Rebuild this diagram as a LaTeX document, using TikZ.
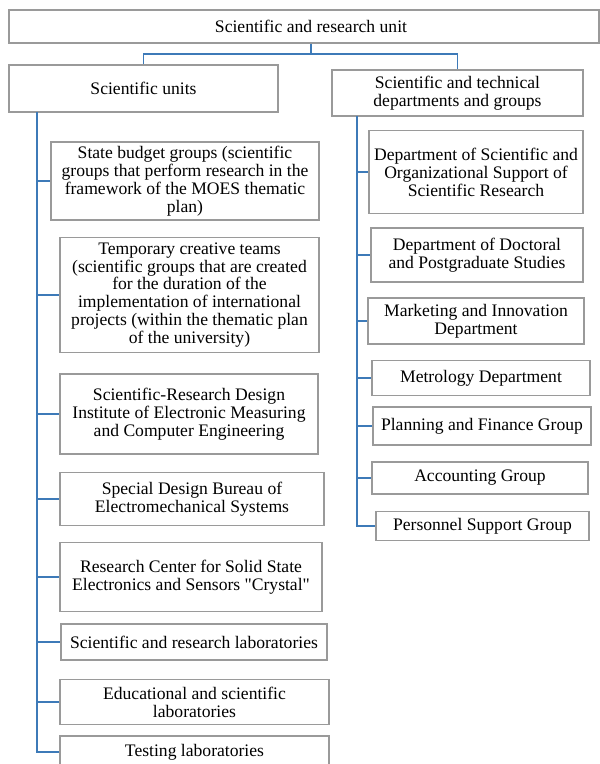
\documentclass[tikz,border=0pt]{standalone}
\usepackage{fontspec}
\setmainfont{Liberation Serif}[Ligatures=TeXOff]
\definecolor{boxgray}{HTML}{9A9A9A}
\definecolor{linkblue}{HTML}{3D7AB8}
\tikzset{
  unitbox/.style={draw=boxgray, line width=1.3pt, fill=white, inner sep=0pt, align=center,
    font=\fontsize{17.6}{17.9}\selectfont},
  link/.style={draw=linkblue, line width=1.5pt}
}
\begin{document}
\begin{tikzpicture}[x=1pt,y=-1pt]
\useasboundingbox (0,0) rectangle (600,764);
% top
\node[unitbox, minimum width=590pt, minimum height=33pt] (top) at (304,26.5) {\hspace*{14pt}Scientific and research unit};
\node[unitbox, minimum width=269pt, minimum height=47pt] (lh) at (143.5,88.5) {Scientific units};
\node[unitbox, minimum width=251pt, minimum height=46pt] (rh) at (457.5,93) {Scientific and technical\\departments and groups};
% left column
\node[unitbox, minimum width=268pt, minimum height=78pt] (L1) at (185,181) {State budget groups (scientific\\groups that perform research in the\\framework of the MOES thematic\\plan)};
\node[unitbox, minimum width=259pt, minimum height=115pt] (L2) at (189.5,295) {Temporary creative teams\\(scientific groups that are created\\for the duration of the\\implementation of international\\projects (within the thematic plan\\of the university)};
\node[unitbox, minimum width=258pt, minimum height=80pt] (L3) at (189,414) {Scientific-Research Design\\Institute of Electronic Measuring\\and Computer Engineering};
\node[unitbox, minimum width=264pt, minimum height=53pt] (L4) at (192,499) {Special Design Bureau of\\Electromechanical Systems};
\node[unitbox, minimum width=262pt, minimum height=69pt] (L5) at (191,577) {Research Center for Solid State\\Electronics and Sensors "Crystal"};
\node[unitbox, minimum width=266pt, minimum height=36pt] (L6) at (194,642) {Scientific and research laboratories};
\node[unitbox, minimum width=269pt, minimum height=45pt] (L7) at (194.5,702) {Educational and scientific\\laboratories};
\node[unitbox, minimum width=269pt, minimum height=32pt] (L8) at (194.5,752) {Testing laboratories};
% right column
\node[unitbox, minimum width=214pt, minimum height=83pt] (R1) at (476,172) {Department of Scientific and\\Organizational Support of\\Scientific Research};
\node[unitbox, minimum width=212pt, minimum height=54pt] (R2) at (477,255) {Department of Doctoral\\and Postgraduate Studies};
\node[unitbox, minimum width=216pt, minimum height=46pt] (R3) at (476,321) {Marketing and Innovation\\Department};
\node[unitbox, minimum width=218pt, minimum height=35pt] (R4) at (481,378) {Metrology Department};
\node[unitbox, minimum width=218pt, minimum height=38pt] (R5) at (482,426) {Planning and Finance Group};
\node[unitbox, minimum width=216pt, minimum height=32pt] (R6) at (480,478) {Accounting Group};
\node[unitbox, minimum width=213pt, minimum height=29pt] (R7) at (482.5,526) {Personnel Support Group};
% connectors
\coordinate (j) at (311,54);
\coordinate (lt) at (37,112);
\coordinate (rt) at (357,116);
\draw[link] (top.south -| j) -- (j);
\draw[link] (lh.north) |- (j) -| (rh.north);
\draw[link] (lt) |- (L8.west);
\foreach \n in {L1,L2,L3,L4,L5,L6,L7}{
  \draw[link] (lt |- \n.west) -- (\n.west);
}
\draw[link] (rt) |- (R7.west);
\foreach \n in {R1,R2,R3,R4,R5,R6}{
  \draw[link] (rt |- \n.west) -- (\n.west);
}
\end{tikzpicture}
\end{document}
